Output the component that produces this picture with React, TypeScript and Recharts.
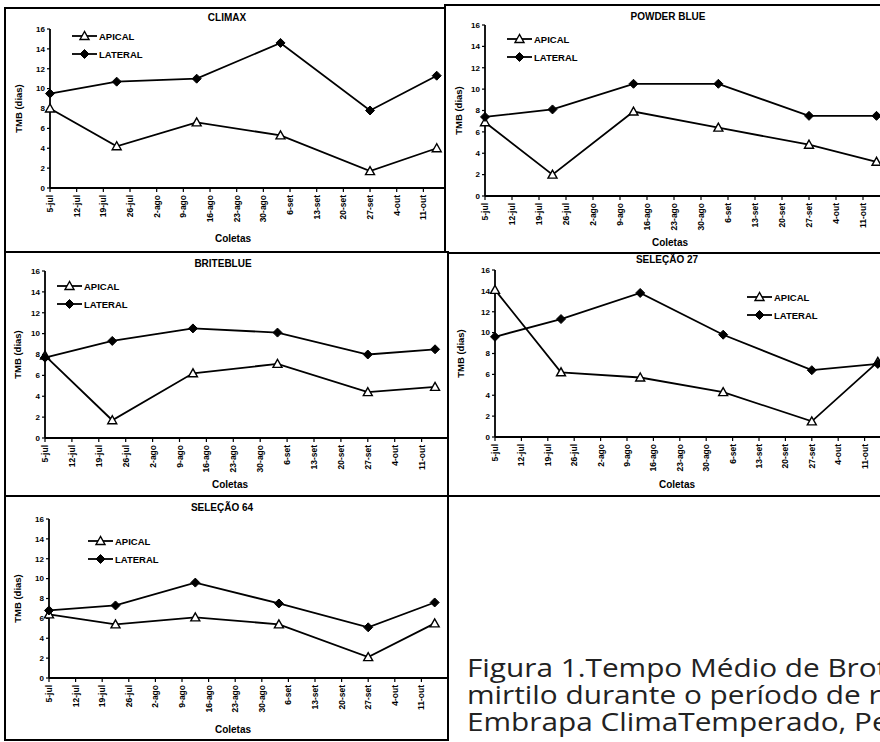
import React from "react";
import { Legend, Line, LineChart, XAxis, YAxis } from "recharts";

// collection dates (days after 5-jul) and weekly tick labels
const collectionDays = [0, 17.5, 38.5, 60.5, 84, 101.5];
const tickDays = [0, 7, 14, 21, 28, 35, 42, 49, 56, 63, 70, 77, 84, 91, 98];
const tickLabels = ["5-jul", "12-jul", "19-jul", "26-jul", "2-ago", "9-ago", "16-ago", "23-ago", "30-ago", "6-set", "13-set", "20-set", "27-set", "4-out", "11-out"];
const yTicks = [0, 2, 4, 6, 8, 10, 12, 14, 16];

const climaxApical = [8.0, 4.2, 6.6, 5.3, 1.7, 4.0];
const climaxLateral = [9.5, 10.7, 11.0, 14.6, 7.8, 11.3];
const powderApical = [6.9, 2.0, 7.9, 6.4, 4.8, 3.2];
const powderLateral = [7.4, 8.1, 10.5, 10.5, 7.5, 7.5];
const briteApical = [7.9, 1.7, 6.2, 7.1, 4.4, 4.9];
const briteLateral = [7.7, 9.3, 10.5, 10.1, 8.0, 8.5];
const sel27Apical = [14.1, 6.2, 5.7, 4.3, 1.5, 7.2];
const sel27Lateral = [9.6, 11.3, 13.8, 9.8, 6.4, 7.0];
const sel64Apical = [6.4, 5.4, 6.1, 5.4, 2.1, 5.5];
const sel64Lateral = [6.8, 7.3, 9.6, 7.5, 5.1, 7.6];

const FONT = "'Liberation Sans', Arial, sans-serif";
const B = 2; // border width

const TriangleDot = (props: any) => {
  const { cx, cy } = props;
  if (cx == null || cy == null) return null;
  return (
    <polygon
      points={`${cx},${cy - 4.5} ${cx - 4.5},${cy + 3.5} ${cx + 4.5},${cy + 3.5}`}
      fill="#fff"
      stroke="#000"
      strokeWidth={1.4}
    />
  );
};

const DiamondDot = (props: any) => {
  const { cx, cy } = props;
  if (cx == null || cy == null) return null;
  return (
    <polygon
      points={`${cx},${cy - 4.5} ${cx + 4.5},${cy} ${cx},${cy + 4.5} ${cx - 4.5},${cy}`}
      fill="#000"
      stroke="#000"
      strokeWidth={1}
    />
  );
};

const XTick = (props: any) => {
  const { x, y, payload } = props;
  const idx = tickDays.indexOf(payload.value);
  return (
    <g transform={`translate(${x},${y + 1})`}>
      <text transform="rotate(-90)" textAnchor="end" dy={3} fontSize={8.5} fontWeight="bold" fontFamily={FONT} fill="#000">
        {tickLabels[idx]}
      </text>
    </g>
  );
};

const LegendBox = () => (
  <svg width={100} height={40}>
    <line x1={0} y1={6} x2={25} y2={6} stroke="#000" strokeWidth={1.8} />
    <TriangleDot cx={12.5} cy={6} />
    <text x={27} y={9.5} fontSize={9.5} fontWeight="bold" fontFamily={FONT}>APICAL</text>
    <line x1={0} y1={24} x2={25} y2={24} stroke="#000" strokeWidth={1.8} />
    <DiamondDot cx={12.5} cy={24} />
    <text x={27} y={27.5} fontSize={9.5} fontWeight="bold" fontFamily={FONT}>LATERAL</text>
  </svg>
);

interface PanelProps {
  title: string;
  apical: number[];
  lateral: number[];
  l: number; t: number; w: number; h: number;
  x0: number; y16: number; y0: number; week: number;
  legendX: number; legendY: number;
  titleX: number; titleY: number;
  xLabelX: number; xLabelY: number;
  yLabelX: number;
}

const Panel = (p: PanelProps) => {
  const ox = p.l + B;
  const oy = p.t + B;
  const yAxisW = p.x0 - ox;
  const marginTop = p.y16 - oy;
  const plotH = p.y0 - p.y16;
  const xAxisH = 60;
  const plotW = 15 * p.week;
  const data = collectionDays.map((d, i) => ({ day: d, apical: p.apical[i], lateral: p.lateral[i] }));

  return (
    <div
      style={{
        position: "absolute", left: p.l, top: p.t, width: p.w, height: p.h,
        border: `${B}px solid #000`, boxSizing: "border-box", overflow: "hidden", background: "#fff",
      }}
    >
      <div style={{ position: "absolute", left: p.titleX - ox - 70, top: p.titleY - oy - 6, width: 140, textAlign: "center", fontFamily: FONT, fontWeight: "bold", fontSize: 10, lineHeight: "12px" }}>
        {p.title}
      </div>
      <div style={{ position: "absolute", left: p.xLabelX - ox - 40, top: p.xLabelY - oy - 6, width: 80, textAlign: "center", fontFamily: FONT, fontWeight: "bold", fontSize: 10, lineHeight: "12px" }}>
        Coletas
      </div>
      <div style={{ position: "absolute", left: 0, top: 0 }}>
        <LineChart
          width={yAxisW + plotW + 10}
          height={marginTop + plotH + xAxisH}
          data={data}
          margin={{ top: marginTop, right: 10, bottom: 0, left: 0 }}
        >
          <XAxis
            dataKey="day"
            type="number"
            domain={[0, 105]}
            ticks={tickDays}
            interval={0}
            height={xAxisH}
            tick={<XTick />}
            tickSize={4}
            axisLine={{ stroke: "#000", strokeWidth: 1.8 }}
            tickLine={{ stroke: "#000", strokeWidth: 1.2 }}
          />
          <YAxis
            type="number"
            domain={[0, 16]}
            ticks={yTicks}
            interval={0}
            width={yAxisW}
            tickSize={3}
            tick={{ fontSize: 8, fontWeight: "bold", fontFamily: FONT, fill: "#000" }}
            axisLine={{ stroke: "#000", strokeWidth: 1.8 }}
            tickLine={{ stroke: "#000", strokeWidth: 1.2 }}
            label={{
              value: "TMB (dias)",
              angle: -90,
              position: "insideLeft",
              offset: p.yLabelX - ox + 3.5,
              style: { textAnchor: "middle", fontSize: 9.5, fontWeight: "bold", fontFamily: FONT, fill: "#000" },
            }}
          />
          <Legend
            layout="vertical"
            align="center"
            verticalAlign="middle"
            content={<LegendBox />}
            wrapperStyle={{ left: p.legendX - ox, top: p.legendY - oy - 6, width: 100, height: 40 }}
          />
          <Line type="linear" dataKey="apical" name="APICAL" stroke="#000" strokeWidth={1.8} dot={<TriangleDot />} isAnimationActive={false} />
          <Line type="linear" dataKey="lateral" name="LATERAL" stroke="#000" strokeWidth={1.8} dot={<DiamondDot />} isAnimationActive={false} />
        </LineChart>
      </div>
    </div>
  );
};

export default function App() {
  return (
    <div style={{ position: "absolute", left: 0, top: 0, width: 880, height: 742, overflow: "hidden", background: "#fff" }}>
      <Panel title="CLIMAX" apical={climaxApical} lateral={climaxLateral}
        l={4} t={7} w={442} h={246} x0={50} y16={29} y0={188} week={26.67}
        legendX={72} legendY={36} titleX={227} titleY={18} xLabelX={233} xLabelY={239} yLabelX={15} />
      <Panel title="POWDER BLUE" apical={powderApical} lateral={powderLateral}
        l={444} t={4} w={440} h={250} x0={485} y16={25} y0={196} week={27}
        legendX={507} legendY={39} titleX={668} titleY={17} xLabelX={670} xLabelY={243} yLabelX={455} />
      <Panel title="BRITEBLUE" apical={briteApical} lateral={briteLateral}
        l={4} t={251} w={445} h={246} x0={45} y16={271} y0={438} week={26.9}
        legendX={57} legendY={286} titleX={223} titleY={264} xLabelX={230} xLabelY={485} yLabelX={14} />
      <Panel title="SELEÇÃO 27" apical={sel27Apical} lateral={sel27Lateral}
        l={447} t={252} w={440} h={245} x0={495} y16={270} y0={437} week={26.4}
        legendX={747} legendY={297} titleX={667} titleY={260} xLabelX={677} xLabelY={485} yLabelX={457} />
      <Panel title="SELEÇÃO 64" apical={sel64Apical} lateral={sel64Lateral}
        l={4} t={495} w={445} h={246} x0={49} y16={519} y0={678} week={26.6}
        legendX={88} legendY={541} titleX={222} titleY={508} xLabelX={233} xLabelY={730} yLabelX={14} />
      <div style={{ position: "absolute", left: 467, top: 654, width: 413, height: 84, overflow: "hidden" }}>
        <div style={{ whiteSpace: "nowrap", fontFamily: "'Open Sans', 'Noto Sans', sans-serif", fontSize: 25, lineHeight: "27px", color: "#222", transform: "scaleX(1.19)", transformOrigin: "left top" }}>
          <div>Figura 1.Tempo Médio de Brotação</div>
          <div>mirtilo durante o período de repouso</div>
          <div>Embrapa ClimaTemperado, Pelotas</div>
        </div>
      </div>
    </div>
  );
}
